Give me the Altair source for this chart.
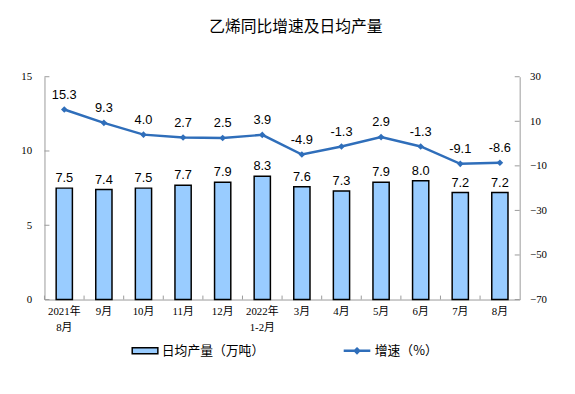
import altair as alt
import pandas as pd

categories = ["2021年|8月", "9月", "10月", "11月", "12月", "2022年|1-2月",
              "3月", "4月", "5月", "6月", "7月", "8月"]
output = [7.5, 7.4, 7.5, 7.7, 7.9, 8.3, 7.6, 7.3, 7.9, 8.0, 7.2, 7.2]
growth = [15.3, 9.3, 4.0, 2.7, 2.5, 3.9, -4.9, -1.3, 2.9, -1.3, -9.1, -8.6]
left_ticks = [0, 5, 10, 15]
right_ticks = [30, 10, -10, -30, -50, -70]
bar_name = "日均产量（万吨）"
line_name = "增速（%）"
title_text = "乙烯同比增速及日均产量"

W, H = 482, 226
AXIS_GREY = "#9a9a9a"
BAR_FILL = "#99CCFF"
LINE_COLOR = "#2F6EBA"
SERIF = "Liberation Serif, Noto Sans CJK SC"
SANS = "Liberation Sans, Noto Sans CJK SC"
CJK = "Noto Sans CJK SC"

df = pd.DataFrame({
    "cat": categories,
    "output": output,
    "growth": growth,
    "bar_s": bar_name,
    "line_s": line_name,
})
df["output_label"] = [f"{v:.1f}" for v in output]
df["growth_label"] = [f"{v:.1f}" for v in growth]
lt = pd.DataFrame({"v": left_ticks})
rt = pd.DataFrame({"v": right_ticks})

x_axis = alt.Axis(title=None, labelAngle=0, labelExpr="split(datum.label, '|')",
                  ticks=False, domainColor=AXIS_GREY, labelFont=SERIF,
                  labelFontSize=11, labelPadding=6, labelLineHeight=16,
                  labelBaseline="top", labelColor="black", grid=False)
x_scale = alt.Scale(paddingInner=0.59, paddingOuter=0.295)
x_enc = alt.X("cat:N", sort=categories, scale=x_scale, axis=x_axis)

left_scale = alt.Scale(domain=[0, 15], nice=False, zero=False)
left_axis = alt.Axis(title=None, values=left_ticks, ticks=False, grid=False,
                     domainColor=AXIS_GREY, labelFont=SERIF, labelFontSize=11,
                     labelPadding=13, labelColor="black")
right_scale = alt.Scale(domain=[-70, 30], nice=False, zero=False)
right_axis = alt.Axis(title=None, orient="right", values=right_ticks, ticks=False,
                      grid=False, domainColor=AXIS_GREY, labelFont=SERIF,
                      labelFontSize=11, labelPadding=10, labelColor="black")

bars = alt.Chart(df).mark_bar(stroke="black", strokeWidth=1.5).encode(
    x=x_enc,
    y=alt.Y("output:Q", scale=left_scale, axis=left_axis),
    fill=alt.Fill("bar_s:N", scale=alt.Scale(domain=[bar_name], range=[BAR_FILL]),
                  legend=alt.Legend(title=None, orient="none", legendX=88, legendY=264,
                                    symbolType="M-1,-0.23H1V0.23H-1Z", symbolSize=676,
                                    symbolStrokeColor="black", symbolStrokeWidth=1.5,
                                    labelFont=CJK, labelFontSize=13, labelColor="black",
                                    labelOffset=3, padding=0)),
)
bar_text = alt.Chart(df).mark_text(font=SANS, fontSize=13, dy=-10,
                                   baseline="middle", color="black").encode(
    x=x_enc,
    y=alt.Y("output:Q", scale=left_scale, axis=left_axis),
    text="output_label:N",
)
left_tick_rules = alt.Chart(lt).mark_rule(color=AXIS_GREY).encode(
    y=alt.Y("v:Q", scale=left_scale, axis=left_axis),
    x=alt.value(0), x2=alt.value(5),
)
x_tick_rules = alt.Chart(df).mark_rule(color=AXIS_GREY, xOffset=-W / 24).encode(
    x=alt.X("cat:N", sort=categories, scale=x_scale, axis=x_axis, bandPosition=0.5),
    y=alt.value(H - 4), y2=alt.value(H),
)
left_layer = alt.layer(bars, bar_text, left_tick_rules, x_tick_rules)

line = alt.Chart(df).mark_line(strokeWidth=2.5).encode(
    x=x_enc,
    y=alt.Y("growth:Q", scale=right_scale, axis=right_axis),
    stroke=alt.Stroke("line_s:N", scale=alt.Scale(domain=[line_name], range=[LINE_COLOR]),
                      legend=alt.Legend(title=None, orient="none", legendX=302, legendY=263,
                                        symbolType="M-1,0H1M0,-0.16L0.16,0L0,0.16L-0.16,0Z",
                                        symbolSize=729, symbolStrokeWidth=2.5,
                                        symbolFillColor=LINE_COLOR,
                                        labelFont=CJK, labelFontSize=13, labelColor="black",
                                        labelOffset=3, padding=0)),
)
points = alt.Chart(df).mark_point(shape="diamond", filled=True, size=45,
                                  color=LINE_COLOR, opacity=1).encode(
    x=x_enc,
    y=alt.Y("growth:Q", scale=right_scale, axis=right_axis),
)
line_text = alt.Chart(df).mark_text(font=SANS, fontSize=13, dy=-15,
                                    baseline="middle", color="black").encode(
    x=x_enc,
    y=alt.Y("growth:Q", scale=right_scale, axis=right_axis),
    text="growth_label:N",
)
right_tick_rules = alt.Chart(rt).mark_rule(color=AXIS_GREY).encode(
    y=alt.Y("v:Q", scale=right_scale, axis=right_axis),
    x=alt.value(W - 5), x2=alt.value(W),
)
right_layer = alt.layer(line, points, line_text, right_tick_rules)

chart = alt.layer(left_layer, right_layer).resolve_scale(
    y="independent"
).properties(
    width=W, height=H,
    autosize="none",
    padding={"left": 37, "top": 67, "right": 48, "bottom": 85},
    title=alt.TitleParams(title_text, font=CJK, fontSize=16, fontWeight="normal",
                          anchor="middle", offset=36, dx=14, color="black"),
).configure_view(stroke=None).configure_axis(domainWidth=1)

chart.save("out.html", embed_options={"renderer": "svg", "actions": False})
